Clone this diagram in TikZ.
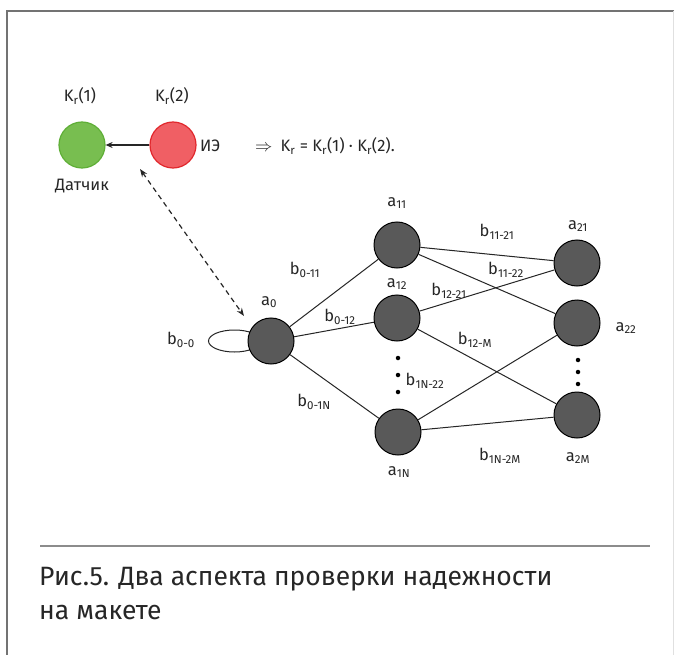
\documentclass[tikz,border=0pt]{standalone}
\usepackage{fontspec}
\setmainfont{Fira Sans}
\usetikzlibrary{arrows.meta,backgrounds}
\newcommand\sbs[1]{\textsubscript{#1}}
\begin{document}
\begin{tikzpicture}[x=1pt,y=-1pt,
  agent/.style={circle, draw=black, fill=black!65, minimum size=46pt, inner sep=0pt, line width=1pt},
  lbl/.style={font=\fontsize{16.5}{18}\selectfont, text=black!85, inner sep=0pt},
  edge/.style={draw=black!85, line width=1pt},
  dotc/.style={circle, fill=black, minimum size=4.5pt, inner sep=0pt}]
\useasboundingbox (0,0) rectangle (674,655);
\begin{scope}[on background layer]
\fill[white] (0,0) rectangle (674,655);
\end{scope}
\draw[black!55, line width=1.5pt] (7,655) -- (7,11) -- (674,11);
\draw[black!12, line width=1pt] (673,11) -- (673,655);

% top part
\node[circle, draw={rgb,255:red,95;green,175;blue,55}, fill={rgb,255:red,120;green,190;blue,80}, minimum size=46pt, inner sep=0pt, line width=1.2pt] (dat) at (82,145) {};
\node[circle, draw={rgb,255:red,225;green,40;blue,45}, fill={rgb,255:red,240;green,95;blue,100}, minimum size=46pt, inner sep=0pt, line width=1.2pt] (ie) at (173,145) {};
\node[lbl] (k1) at (80,96) {K\sbs{r}(1)};
\node[lbl] (k2) at (172,96) {K\sbs{r}(2)};
\node[lbl] (datl) at (82,186) {Датчик};
\node[lbl, anchor=west] (iel) at (200,146) {ИЭ};
\node[lbl, anchor=west] (form) at (255,146) {$\Rightarrow$\enspace K\sbs{r} = K\sbs{r}(1) · K\sbs{r}(2).};
\draw[edge, line width=1.2pt, -{Stealth[length=7pt,width=6pt]}] (ie) -- (dat);

% network nodes
\node[agent] (a0) at (271,341) {};
\node[agent] (a11) at (397,245) {};
\node[agent] (a12) at (397,318) {};
\node[agent] (a1N) at (398,432) {};
\node[agent] (a21) at (577,263) {};
\node[agent] (a22) at (577,323) {};
\node[agent] (a2M) at (577,415) {};

\begin{scope}[on background layer]
\draw[edge] ([xshift=-13pt]a0.west) ellipse [x radius=26pt, y radius=11pt];
\end{scope}

\coordinate (dtop) at (140,169);
\coordinate (dbot) at (244,316);
\draw[edge, line width=1.2pt, dashed, dash pattern=on 5pt off 4pt, {Stealth[length=8pt,width=6pt]}-{Stealth[length=8pt,width=6pt]}] (dtop) -- (dbot);

\draw[edge] (a0) -- (a11);
\draw[edge] (a0) -- (a12);
\draw[edge] (a0) -- (a1N);
\draw[edge] (a11) -- (a21);
\draw[edge] (a11) -- (a22);
\draw[edge] (a12) -- (a21);
\draw[edge] (a12) -- (a2M);
\draw[edge] (a1N) -- (a22);
\draw[edge] (a1N) -- (a2M);

% node labels
\node[lbl] (la0) at (269,302) {a\sbs{0}};
\node[lbl] (la11) at (397,203) {a\sbs{11}};
\node[lbl] (la12) at (397,284) {a\sbs{12}};
\node[lbl] (la1N) at (399,472) {a\sbs{1N}};
\node[lbl] (la21) at (578,226) {a\sbs{21}};
\node[lbl] (la22) at (626,328) {a\sbs{22}};
\node[lbl] (la2M) at (578,458) {a\sbs{2M}};

% edge labels
\node[lbl] (b00) at (181,340) {b\sbs{0-0}};
\node[lbl] (b011) at (305,270) {b\sbs{0-11}};
\node[lbl] (b012) at (340,317) {b\sbs{0-12}};
\node[lbl] (b01N) at (314,402) {b\sbs{0-1N}};
\node[lbl] (b1121) at (497,232) {b\sbs{11-21}};
\node[lbl] (b1122) at (506,270) {b\sbs{11-22}};
\node[lbl] (b1221) at (449,291) {b\sbs{12-21}};
\node[lbl] (b12M) at (475,340) {b\sbs{12-M}};
\node[lbl] (b1N22) at (425,381) {b\sbs{1N-22}};
\node[lbl] (b1N2M) at (500,456) {b\sbs{1N-2M}};

% dots
\node[dotc] (d1) at (398,358) {};
\node[dotc] (d2) at (398,375) {};
\node[dotc] (d3) at (398,392) {};
\node[dotc] (d4) at (578,360) {};
\node[dotc] (d5) at (578,372) {};
\node[dotc] (d6) at (578,384) {};

% caption
\draw[black!45, line width=1.5pt] (40,546) -- (650,546);
\node[anchor=base west, inner sep=0pt, font=\fontsize{26.5}{30}\selectfont, text=black!85] (cap1) at (39,585) {Рис.5. Два аспекта проверки надежности};
\node[anchor=base west, inner sep=0pt, font=\fontsize{26.5}{30}\selectfont, text=black!85] (cap2) at (39,619) {на макете};
\end{tikzpicture}
\end{document}
